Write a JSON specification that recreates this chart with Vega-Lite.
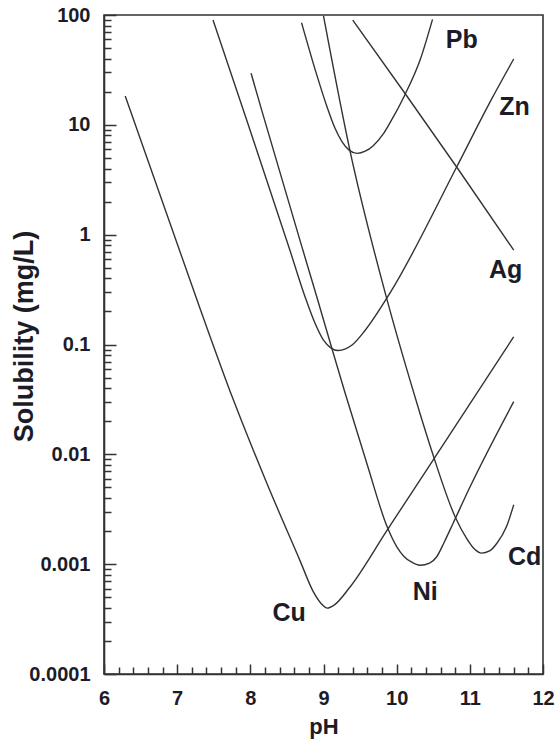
{
  "$schema": "https://vega.github.io/schema/vega-lite/v6.json",
  "width": 439,
  "height": 659,
  "autosize": "none",
  "padding": {"left": 104, "top": 15, "right": 15, "bottom": 70},
  "background": "white",
  "config": {
    "view": {"stroke": "#333333", "strokeWidth": 1.6},
    "font": "Liberation Sans",
    "axis": {
      "grid": false,
      "domainColor": "#333333",
      "domainWidth": 1.6,
      "tickColor": "#333333",
      "tickWidth": 1.5,
      "labelFont": "Liberation Sans",
      "labelFontWeight": "bold",
      "labelFontSize": 20,
      "labelColor": "#1c1c28",
      "titleFont": "Liberation Sans",
      "titleFontWeight": "bold",
      "titleFontSize": 22,
      "titleColor": "#1c1c28"
    }
  },
  "datasets": {
    "curves": [
      {"metal": "Cu", "pH": 6.29, "S": 18.28},
      {"metal": "Cu", "pH": 7.31, "S": 0.2148},
      {"metal": "Cu", "pH": 7.76, "S": 0.03236},
      {"metal": "Cu", "pH": 8.23, "S": 0.005370},
      {"metal": "Cu", "pH": 8.68, "S": 0.001072},
      {"metal": "Cu", "pH": 8.86, "S": 0.0005623},
      {"metal": "Cu", "pH": 8.97, "S": 0.0004365},
      {"metal": "Cu", "pH": 9.05, "S": 0.0003981},
      {"metal": "Cu", "pH": 9.15, "S": 0.0004266},
      {"metal": "Cu", "pH": 9.36, "S": 0.0006166},
      {"metal": "Cu", "pH": 9.87, "S": 0.002042},
      {"metal": "Cu", "pH": 10.5, "S": 0.008913},
      {"metal": "Cu", "pH": 11.6, "S": 0.1175},
      {"metal": "Zn", "pH": 7.49, "S": 89.9},
      {"metal": "Zn", "pH": 7.95, "S": 11.07},
      {"metal": "Zn", "pH": 8.54, "S": 0.7244},
      {"metal": "Zn", "pH": 8.75, "S": 0.2692},
      {"metal": "Zn", "pH": 8.88, "S": 0.1585},
      {"metal": "Zn", "pH": 9.0, "S": 0.1096},
      {"metal": "Zn", "pH": 9.1, "S": 0.0933},
      {"metal": "Zn", "pH": 9.2, "S": 0.0881},
      {"metal": "Zn", "pH": 9.3, "S": 0.0912},
      {"metal": "Zn", "pH": 9.39, "S": 0.0989},
      {"metal": "Zn", "pH": 9.57, "S": 0.1349},
      {"metal": "Zn", "pH": 9.91, "S": 0.2951},
      {"metal": "Zn", "pH": 10.82, "S": 4.13},
      {"metal": "Zn", "pH": 11.27, "S": 15.85},
      {"metal": "Zn", "pH": 11.6, "S": 39.8},
      {"metal": "Ni", "pH": 8.01, "S": 29.5},
      {"metal": "Ni", "pH": 8.17, "S": 12.59},
      {"metal": "Ni", "pH": 8.7, "S": 0.7943},
      {"metal": "Ni", "pH": 8.91, "S": 0.2692},
      {"metal": "Ni", "pH": 9.09, "S": 0.1047},
      {"metal": "Ni", "pH": 9.29, "S": 0.03715},
      {"metal": "Ni", "pH": 9.6, "S": 0.007943},
      {"metal": "Ni", "pH": 9.87, "S": 0.002188},
      {"metal": "Ni", "pH": 10.0, "S": 0.001445},
      {"metal": "Ni", "pH": 10.1, "S": 0.001175},
      {"metal": "Ni", "pH": 10.2, "S": 0.001047},
      {"metal": "Ni", "pH": 10.32, "S": 0.000977},
      {"metal": "Ni", "pH": 10.45, "S": 0.001023},
      {"metal": "Ni", "pH": 10.55, "S": 0.001175},
      {"metal": "Ni", "pH": 10.65, "S": 0.001585},
      {"metal": "Ni", "pH": 10.77, "S": 0.002344},
      {"metal": "Ni", "pH": 11.0, "S": 0.005012},
      {"metal": "Ni", "pH": 11.6, "S": 0.0302},
      {"metal": "Cd", "pH": 9.0, "S": 98},
      {"metal": "Cd", "pH": 9.36, "S": 5.89},
      {"metal": "Cd", "pH": 9.87, "S": 0.2535},
      {"metal": "Cd", "pH": 10.18, "S": 0.04786},
      {"metal": "Cd", "pH": 10.32, "S": 0.02344},
      {"metal": "Cd", "pH": 10.49, "S": 0.01023},
      {"metal": "Cd", "pH": 10.8, "S": 0.00269},
      {"metal": "Cd", "pH": 10.96, "S": 0.0017},
      {"metal": "Cd", "pH": 11.06, "S": 0.00138},
      {"metal": "Cd", "pH": 11.16, "S": 0.00126},
      {"metal": "Cd", "pH": 11.27, "S": 0.00132},
      {"metal": "Cd", "pH": 11.37, "S": 0.00155},
      {"metal": "Cd", "pH": 11.5, "S": 0.00219},
      {"metal": "Cd", "pH": 11.6, "S": 0.00347},
      {"metal": "Pb", "pH": 8.7, "S": 85.1},
      {"metal": "Pb", "pH": 8.91, "S": 28.2},
      {"metal": "Pb", "pH": 9.05, "S": 14.45},
      {"metal": "Pb", "pH": 9.15, "S": 9.55},
      {"metal": "Pb", "pH": 9.25, "S": 7.08},
      {"metal": "Pb", "pH": 9.35, "S": 5.89},
      {"metal": "Pb", "pH": 9.46, "S": 5.5},
      {"metal": "Pb", "pH": 9.57, "S": 5.75},
      {"metal": "Pb", "pH": 9.68, "S": 6.46},
      {"metal": "Pb", "pH": 9.81, "S": 8.13},
      {"metal": "Pb", "pH": 9.91, "S": 10.47},
      {"metal": "Pb", "pH": 10.11, "S": 18.62},
      {"metal": "Pb", "pH": 10.32, "S": 38.9},
      {"metal": "Pb", "pH": 10.49, "S": 91.2},
      {"metal": "Ag", "pH": 9.4, "S": 90},
      {"metal": "Ag", "pH": 10.11, "S": 19.5},
      {"metal": "Ag", "pH": 10.82, "S": 4.13},
      {"metal": "Ag", "pH": 11.6, "S": 0.724}
    ],
    "labels": [
      {"name": "Pb", "pH": 10.89, "S": 59},
      {"name": "Zn", "pH": 11.61, "S": 14.5},
      {"name": "Ag", "pH": 11.49, "S": 0.48},
      {"name": "Cd", "pH": 11.75, "S": 0.00117},
      {"name": "Ni", "pH": 10.39, "S": 0.000556},
      {"name": "Cu", "pH": 8.53, "S": 0.000358}
    ]
  },
  "layer": [
    {
      "data": {"name": "curves"},
      "mark": {"type": "line", "color": "#333333", "strokeWidth": 1.4, "interpolate": "monotone", "clip": true},
      "encoding": {
        "x": {
          "field": "pH", "type": "quantitative",
          "scale": {"domain": [6, 12], "nice": false, "zero": false},
          "axis": {"title": "pH", "orient": "bottom", "values": [6, 7, 8, 9, 10, 11, 12], "tickSize": -10, "labelPadding": 24, "labelFlush": false, "labelOverlap": false, "titlePadding": 8}
        },
        "y": {
          "field": "S", "type": "quantitative",
          "scale": {"type": "log", "domain": [0.0001, 100], "nice": false},
          "axis": {"title": "Solubility (mg/L)", "orient": "left", "values": [0.0001, 0.001, 0.01, 0.1, 1, 10, 100], "format": "~g", "tickSize": -12, "labelPadding": 26, "labelOverlap": false, "titleFontSize": 27, "titleX": -72, "titleY": 321, "titleAngle": -90, "titleAlign": "center", "titleBaseline": "alphabetic"}
        },
        "detail": {"field": "metal", "type": "nominal"}
      }
    },
    {
      "data": {"name": "labels"},
      "mark": {"type": "text", "font": "Liberation Sans", "fontWeight": "bold", "fontSize": 25, "color": "#1c1c28", "align": "center", "baseline": "middle"},
      "encoding": {
        "x": {
          "field": "pH", "type": "quantitative",
          "scale": {"domain": [6, 12], "nice": false, "zero": false},
          "axis": {"orient": "bottom", "title": null, "labels": false, "domain": false, "tickSize": -7,
            "values": [6.2, 6.4, 6.6, 6.8, 7.2, 7.4, 7.6, 7.8, 8.2, 8.4, 8.6, 8.8, 9.2, 9.4, 9.6, 9.8, 10.2, 10.4, 10.6, 10.8, 11.2, 11.4, 11.6, 11.8]}
        },
        "y": {
          "field": "S", "type": "quantitative",
          "scale": {"type": "log", "domain": [0.0001, 100], "nice": false},
          "axis": {"orient": "left", "title": null, "labels": false, "domain": false, "tickSize": -7,
            "values": [0.0002, 0.0003, 0.0004, 0.0005, 0.0006, 0.0007, 0.0008, 0.0009, 0.002, 0.003, 0.004, 0.005, 0.006, 0.007, 0.008, 0.009, 0.02, 0.03, 0.04, 0.05, 0.06, 0.07, 0.08, 0.09, 0.2, 0.3, 0.4, 0.5, 0.6, 0.7, 0.8, 0.9, 2, 3, 4, 5, 6, 7, 8, 9, 20, 30, 40, 50, 60, 70, 80, 90]}
        },
        "text": {"field": "name", "type": "nominal"}
      }
    }
  ],
  "resolve": {"axis": {"x": "independent", "y": "independent"}}
}
